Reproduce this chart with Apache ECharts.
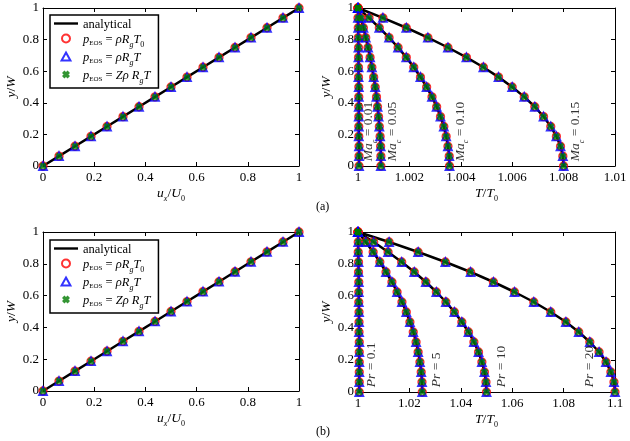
<!DOCTYPE html>
<html>
<head>
<meta charset="utf-8">
<script src="https://cdn.jsdelivr.net/npm/echarts@6/dist/echarts.min.js"></script>
<style>
  html, body { margin: 0; padding: 0; background: #fff; }
  #chart { width: 630px; height: 441px; }
</style>
</head>
<body>
<div id="chart"></div>
<script>
// y/W positions of the sampled points (same for every curve)
const yPos = [0, 0.0625, 0.125, 0.1875, 0.25, 0.3125, 0.375, 0.4375, 0.5,
  0.5625, 0.625, 0.6875, 0.75, 0.8125, 0.875, 0.9375, 1];

// velocity profiles, panels (a) and (b)
const uxA = [0, 0.0625, 0.125, 0.1875, 0.25, 0.3125, 0.375, 0.4375, 0.5,
  0.5625, 0.625, 0.6875, 0.75, 0.8125, 0.875, 0.9375, 1];
const uxB = [0, 0.0625, 0.125, 0.1875, 0.25, 0.3125, 0.375, 0.4375, 0.5,
  0.5625, 0.625, 0.6875, 0.75, 0.8125, 0.875, 0.9375, 1];

// temperature profiles for several Ma_c, panel (a)
const maNames = ['0.01', '0.05', '0.10', '0.15'];
const tMa001 = [1.00004, 1.00004, 1.00004, 1.00003, 1.00003, 1.00003, 1.00003, 1.00003, 1.00003,
  1.00002, 1.00002, 1.00002, 1.00002, 1.00001, 1.00001, 1.0, 1];
const tMa005 = [1.00089, 1.00089, 1.00088, 1.00086, 1.00083, 1.0008, 1.00076, 1.00072, 1.00067,
  1.00061, 1.00054, 1.00047, 1.00039, 1.0003, 1.00021, 1.00011, 1];
const tMa010 = [1.00356, 1.00355, 1.0035, 1.00343, 1.00334, 1.00321, 1.00306, 1.00288, 1.00267,
  1.00243, 1.00217, 1.00188, 1.00156, 1.00121, 1.00083, 1.00043, 1];
const tMa015 = [1.008, 1.00797, 1.00788, 1.00772, 1.0075, 1.00722, 1.00688, 1.00647, 1.006,
  1.00547, 1.00488, 1.00422, 1.0035, 1.00272, 1.00188, 1.00097, 1];

// temperature profiles for several Pr, panel (b)
const prNames = ['0.1', '5', '10', '20'];
const tPr01 = [1.0005, 1.0005, 1.0005, 1.0005, 1.0005, 1.0005, 1.0004, 1.0004, 1.0004,
  1.0003, 1.0003, 1.0003, 1.0002, 1.0002, 1.0001, 1.0001, 1];
const tPr5 = [1.025, 1.0249, 1.0246, 1.0241, 1.0234, 1.0226, 1.0215, 1.0202, 1.0188,
  1.0171, 1.0152, 1.0132, 1.0109, 1.0085, 1.0059, 1.003, 1];
const tPr10 = [1.05, 1.0498, 1.0492, 1.0482, 1.0469, 1.0451, 1.043, 1.0404, 1.0375,
  1.0342, 1.0305, 1.0264, 1.0219, 1.017, 1.0117, 1.0061, 1];
const tPr20 = [1.1, 1.0996, 1.0984, 1.0965, 1.0938, 1.0902, 1.0859, 1.0809, 1.075,
  1.0684, 1.0609, 1.0527, 1.0438, 1.034, 1.0234, 1.0121, 1];

// where the rotated curve labels sit (T/T0, y/W of the label start)
const maLabelT = [1.00037, 1.00132, 1.00393, 1.00844];
const prLabelT = [1.0047, 1.030, 1.0553, 1.0895];
const labelY = 0.03;

// tick labels
const yTicks = [0, 0.2, 0.4, 0.6, 0.8, 1];
const uTicks = [0, 0.2, 0.4, 0.6, 0.8, 1];
const tTicksA = [1, 1.002, 1.004, 1.006, 1.008, 1.01];
const tTicksB = [1, 1.02, 1.04, 1.06, 1.08, 1.1];

const FONT = '"Liberation Serif", "DejaVu Serif", serif';
const RED = '#ff0000', BLUE = '#0000ff', GREEN = '#007a00';
const XMARK = 'path://M0,3L3,0L5,2L7,0L10,3L8,5L10,7L7,10L5,8L3,10L0,7L2,5Z';
const CIRCLE_ICON = 'path://M5,0A5,5,0,1,1,4.99,0Z';
const TRI_ICON = 'path://M5,0L10,9L0,9Z';
const LINE_ICON = 'path://M0,0L10,0L10,1L0,1Z';

const rich = {
  i: { fontFamily: FONT, fontStyle: 'italic', fontSize: 13.5, color: '#000', lineHeight: 16, verticalAlign: 'bottom' },
  n: { fontFamily: FONT, fontSize: 13.5, color: '#000', lineHeight: 16, verticalAlign: 'bottom' },
  s: { fontFamily: FONT, fontSize: 8, color: '#000', lineHeight: 16, verticalAlign: 'bottom', padding: [0, 0, -3, 0] },
  si: { fontFamily: FONT, fontStyle: 'italic', fontSize: 8, color: '#000', lineHeight: 16, verticalAlign: 'bottom', padding: [0, 0, -3, 0] },
  ls: { fontFamily: FONT, fontSize: 7, color: '#000', lineHeight: 15, verticalAlign: 'bottom', padding: [0, 0, -1, 0] },
  li: { fontFamily: FONT, fontStyle: 'italic', fontSize: 12.5, color: '#000', lineHeight: 15, verticalAlign: 'bottom' },
  ln: { fontFamily: FONT, fontSize: 12.5, color: '#000', lineHeight: 15, verticalAlign: 'bottom' },
  lsi: { fontFamily: FONT, fontStyle: 'italic', fontSize: 8, color: '#000', lineHeight: 15, verticalAlign: 'bottom', padding: [0, 0, -3, 0] },
  lsn: { fontFamily: FONT, fontSize: 8, color: '#000', lineHeight: 15, verticalAlign: 'bottom', padding: [0, 0, -3, 0] }
};

const legendText = {
  analytical: '{ln|analytical}',
  eos1: '{li|p}{ls|EOS}{ln| = }{li|ρR}{lsi|g}{li|T}{lsn|0}',
  eos2: '{li|p}{ls|EOS}{ln| = }{li|ρR}{lsi|g}{li|T}',
  eos3: '{li|p}{ls|EOS}{ln| = }{li|Zρ R}{lsi|g}{li|T}'
};

const grids = [
  { left: 43, top: 8, width: 256, height: 158 },
  { left: 358, top: 8, width: 257, height: 158 },
  { left: 43, top: 232, width: 256, height: 159 },
  { left: 358, top: 232, width: 257, height: 160 }
];

function fmtTick(ticks) {
  return v => {
    const t = ticks.find(t => Math.abs(t - v) < 1e-9);
    return t === undefined ? '' : String(t);
  };
}

function makeAxes(gridIndex, ticks, isX, name) {
  const base = {
    type: 'value',
    gridIndex,
    min: ticks[0],
    max: ticks[ticks.length - 1],
    interval: +(ticks[1] - ticks[0]).toFixed(6),
    splitLine: { show: false },
    axisLine: { show: true, onZero: false, lineStyle: { color: '#000', width: 1 } },
    axisTick: { show: true, inside: true, length: 4, lineStyle: { color: '#000', width: 1 } }
  };
  const main = Object.assign({}, base, {
    position: isX ? 'bottom' : 'left',
    axisLabel: { color: '#000', fontFamily: FONT, fontSize: 13, margin: isX ? 5 : 4, formatter: fmtTick(ticks) },
    name,
    nameLocation: 'middle',
    nameGap: isX ? 18 : 24,
    nameTextStyle: { rich }
  });
  const mirror = Object.assign({}, base, {
    position: isX ? 'top' : 'right',
    axisLabel: { show: false }
  });
  return [main, mirror];
}

const xNameU = '{i|u}{si|x}{n|/}{i|U}{s|0}';
const xNameT = '{i|T}{n|/}{i|T}{s|0}';
const yName = '{i|y}{n|/}{i|W}';

const xAxes = [].concat(
  makeAxes(0, uTicks, true, xNameU),
  makeAxes(1, tTicksA, true, xNameT),
  makeAxes(2, uTicks, true, xNameU),
  makeAxes(3, tTicksB, true, xNameT)
);
const yAxes = [].concat(
  makeAxes(0, yTicks, false, yName),
  makeAxes(1, yTicks, false, yName),
  makeAxes(2, yTicks, false, yName),
  makeAxes(3, yTicks, false, yName)
);

function profileSeries(g, xs) {
  const pts = yPos.map((y, i) => [xs[i], y]);
  const ax = { xAxisIndex: 2 * g, yAxisIndex: 2 * g };
  return [
    Object.assign({ name: 'analytical', type: 'line', data: pts, symbol: 'none',
      lineStyle: { color: '#000', width: 2.5 }, itemStyle: { color: '#000' }, z: 2 }, ax),
    Object.assign({ name: 'eos1', type: 'scatter', data: pts, symbol: 'circle', symbolSize: 7.5,
      itemStyle: { color: 'rgba(0,0,0,0)', borderColor: RED, borderWidth: 1.8 }, z: 3 }, ax),
    Object.assign({ name: 'eos2', type: 'scatter', data: pts, symbol: 'triangle', symbolSize: 8,
      itemStyle: { color: 'rgba(0,0,0,0)', borderColor: BLUE, borderWidth: 1.8 }, z: 4 }, ax),
    Object.assign({ name: 'eos3', type: 'scatter', data: pts, symbol: XMARK, symbolSize: 7.5,
      itemStyle: { color: GREEN }, z: 5 }, ax)
  ];
}

function labelSeries(g, xs, texts) {
  return {
    type: 'scatter',
    xAxisIndex: 2 * g,
    yAxisIndex: 2 * g,
    silent: true,
    symbolSize: 0,
    z: 10,
    data: xs.map((x, i) => ({ value: [x, labelY], text: texts[i] })),
    label: {
      show: true,
      position: 'inside',
      rotate: 90,
      align: 'left',
      verticalAlign: 'middle',
      formatter: p => p.data.text,
      rich
    }
  };
}

let series = [];
series = series.concat(profileSeries(0, uxA));
[tMa001, tMa005, tMa010, tMa015].forEach(arr => { series = series.concat(profileSeries(1, arr)); });
series = series.concat(profileSeries(2, uxB));
[tPr01, tPr5, tPr10, tPr20].forEach(arr => { series = series.concat(profileSeries(3, arr)); });
series.push(labelSeries(1, maLabelT, maNames.map(m => '{i|Ma}{si|c}{n| = ' + m + '}')));
series.push(labelSeries(3, prLabelT, prNames.map(p => '{i|Pr}{n| = ' + p + '}')));

function makeLegend(top) {
  return {
    left: 50,
    top,
    orient: 'vertical',
    data: [
      { name: 'analytical', icon: LINE_ICON },
      { name: 'eos1', icon: CIRCLE_ICON, itemStyle: { color: 'rgba(0,0,0,0)', borderColor: RED, borderWidth: 2 } },
      { name: 'eos2', icon: TRI_ICON, itemStyle: { color: 'rgba(0,0,0,0)', borderColor: BLUE, borderWidth: 2 } },
      { name: 'eos3', icon: XMARK, itemStyle: { color: GREEN } }
    ],
    formatter: n => legendText[n],
    selectedMode: false,
    backgroundColor: '#fff',
    borderColor: '#000',
    borderWidth: 1.5,
    borderRadius: 0,
    padding: [3, 8, 3, 4],
    itemGap: 2,
    itemWidth: 24,
    itemHeight: 8,
    textStyle: { fontFamily: FONT, fontSize: 12.5, color: '#000', rich }
  };
}

const chart = echarts.init(document.getElementById('chart'));
chart.setOption({
  animation: false,
  backgroundColor: '#fff',
  textStyle: { fontFamily: FONT },
  grid: grids,
  xAxis: xAxes,
  yAxis: yAxes,
  legend: [makeLegend(15), makeLegend(240)],
  series,
  graphic: [
    { type: 'text', left: 316, top: 201, style: { text: '(a)', font: '12px ' + FONT, fill: '#000' } },
    { type: 'text', left: 316, top: 426, style: { text: '(b)', font: '12px ' + FONT, fill: '#000' } }
  ]
});
</script>
</body>
</html>
